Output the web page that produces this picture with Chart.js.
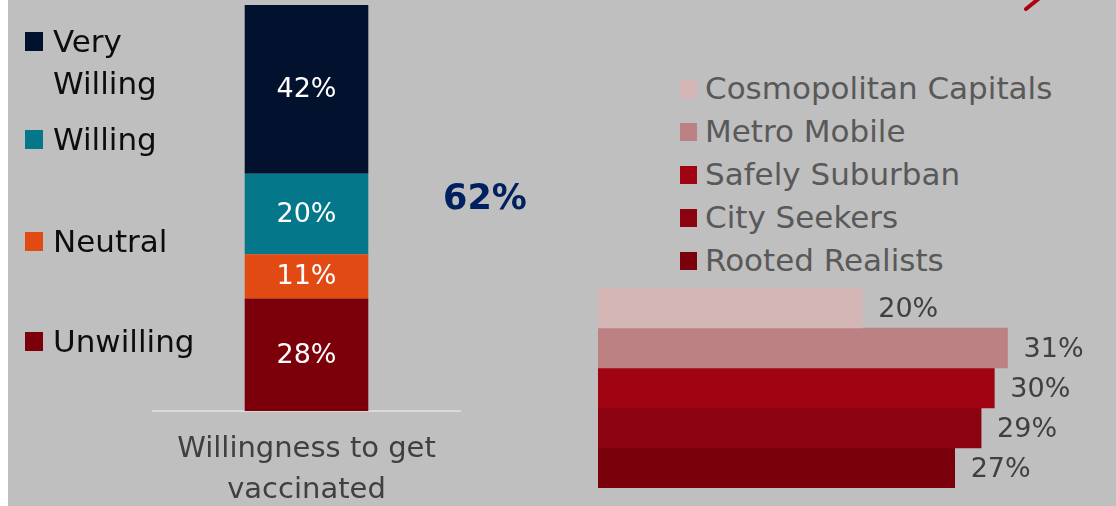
<!DOCTYPE html>
<html>
<head>
<meta charset="utf-8">
<script src="https://cdn.jsdelivr.net/npm/chart.js@4.4.1/dist/chart.umd.min.js"></script>
<style>
  html, body { margin: 0; padding: 0; width: 1116px; height: 506px; overflow: hidden; background: #ffffff; }
  #bg { position: absolute; left: 8px; top: 0; width: 1108px; height: 506px; background: #BFBFBF; }
  .abs { position: absolute; }
  .leg { position: absolute; font-family: "DejaVu Sans", sans-serif; font-size: 31px; }
  .leg .sw { position: absolute; }
  #leftLegend .item { position: absolute; left: 25px; width: 200px; line-height: 42px; color: #0D0D0D; }
  #leftLegend .sw { left: 0; top: 12px; width: 18px; height: 19px; }
  #leftLegend .tx { position: absolute; left: 28px; width: 150px; }
  #rightLegend { left: 680px; top: 67px; color: #595959; }
  #rightLegend .item { position: relative; height: 43px; line-height: 43px; padding-left: 25px; white-space: nowrap; }
  #rightLegend .sw { left: 0; top: 13px; width: 17px; height: 18px; }
  #big { position: absolute; left: 385px; top: 177px; width: 200px; text-align: center; font-family: "DejaVu Sans", sans-serif; font-weight: bold; font-size: 35px; line-height: 40px; color: #002060; }
</style>
</head>
<body>
<div id="bg"></div>
<svg class="abs" style="left:0;top:0" width="1116" height="506">
  <line x1="1026" y1="9" x2="1042" y2="-4" stroke="#B0000F" stroke-width="4" stroke-linecap="round"/>
</svg>
<canvas id="left" class="abs" width="309" height="529" style="left:152px;top:0"></canvas>
<canvas id="right" class="abs" width="518" height="200" style="left:598px;top:288px"></canvas>
<div id="leftLegend" class="leg"></div>
<div id="rightLegend" class="leg"></div>
<div id="big"></div>
<script>
// ---- data ----
const willingCategory = ['Willingness to get', 'vaccinated'];
const willingLabels = ['Very Willing', 'Willing', 'Neutral', 'Unwilling'];
const willingValues = [42, 20, 11, 28];
const willingColors = ['#02112E', '#05778B', '#E24A13', '#7B0009'];
const willingTotalLabel = '62%';

const segmentLabels = ['Cosmopolitan Capitals', 'Metro Mobile', 'Safely Suburban', 'City Seekers', 'Rooted Realists'];
const segmentValues = [20, 31, 30, 29, 27];
const segmentColors = ['#D4B5B6', '#BC8283', '#A00312', '#8B0210', '#7A000B'];

// legend vertical placement (layout only)
const leftLegendTops = [20, 118, 220, 320];

// ---- left stacked bar ----
const leftDatasets = willingLabels.map((l, i) => ({
  label: l, data: [willingValues[i]], backgroundColor: willingColors[i],
  borderWidth: 0, barPercentage: 0.4, categoryPercentage: 1.0
})).reverse();

const centerLabels = {
  id: 'centerLabels',
  afterDatasetsDraw(chart) {
    const ctx = chart.ctx;
    ctx.save();
    ctx.font = '27px "DejaVu Sans"';
    ctx.fillStyle = '#FFFFFF';
    ctx.textAlign = 'center';
    ctx.textBaseline = 'middle';
    chart.data.datasets.forEach((ds, di) => {
      const meta = chart.getDatasetMeta(di);
      meta.data.forEach((bar, j) => {
        const y = (bar.y + bar.base) / 2;
        ctx.fillText(ds.data[j] + '%', bar.x, y + 1);
      });
    });
    ctx.restore();
  }
};

new Chart(document.getElementById('left'), {
  type: 'bar',
  data: { labels: [willingCategory], datasets: leftDatasets },
  options: {
    responsive: false, animation: false, devicePixelRatio: 1,
    layout: { padding: { top: 5, bottom: 0, left: 0, right: 0 } },
    plugins: { legend: { display: false }, tooltip: { enabled: false } },
    scales: {
      x: {
        stacked: true,
        grid: { display: false, drawTicks: false },
        border: { display: true, color: '#D9D9D9', width: 2 },
        ticks: { color: '#404040', padding: 18, font: { family: 'DejaVu Sans', size: 29, lineHeight: 41 / 29 } }
      },
      y: { stacked: true, display: false, min: 0, max: willingValues.reduce((a, b) => a + b, 0) }
    }
  },
  plugins: [centerLabels]
});

// ---- right horizontal bars ----
const endLabels = {
  id: 'endLabels',
  afterDatasetsDraw(chart) {
    const ctx = chart.ctx;
    ctx.save();
    ctx.font = '27px "DejaVu Sans"';
    ctx.fillStyle = '#404040';
    ctx.textAlign = 'left';
    ctx.textBaseline = 'middle';
    chart.data.datasets.forEach((ds, di) => {
      const meta = chart.getDatasetMeta(di);
      meta.data.forEach((bar, j) => {
        ctx.fillText(ds.data[j] + '%', bar.x + 16, bar.y + 2);
      });
    });
    ctx.restore();
  }
};

new Chart(document.getElementById('right'), {
  type: 'bar',
  data: {
    labels: [''],
    datasets: segmentLabels.map((l, i) => ({
      label: l, data: [segmentValues[i]], backgroundColor: segmentColors[i],
      borderWidth: 0, barPercentage: 1.0, categoryPercentage: 1.0
    }))
  },
  options: {
    indexAxis: 'y',
    responsive: false, animation: false, devicePixelRatio: 1,
    layout: { padding: { top: 0, bottom: 0, left: 0, right: 16 } },
    plugins: { legend: { display: false }, tooltip: { enabled: false } },
    scales: {
      x: { display: false, min: 0, max: 38 },
      y: { display: false }
    }
  },
  plugins: [endLabels]
});

// ---- legends ----
const ll = document.getElementById('leftLegend');
willingLabels.forEach((l, i) => {
  const it = document.createElement('div');
  it.className = 'item';
  it.style.top = leftLegendTops[i] + 'px';
  it.innerHTML = '<span class="sw" style="background:' + willingColors[i] + '"></span><span class="tx">' + l + '</span>';
  ll.appendChild(it);
});
const rl = document.getElementById('rightLegend');
segmentLabels.forEach((l, i) => {
  const it = document.createElement('div');
  it.className = 'item';
  it.innerHTML = '<span class="sw" style="background:' + segmentColors[i] + '"></span>' + l;
  rl.appendChild(it);
});
document.getElementById('big').textContent = willingTotalLabel;
</script>
</body>
</html>
